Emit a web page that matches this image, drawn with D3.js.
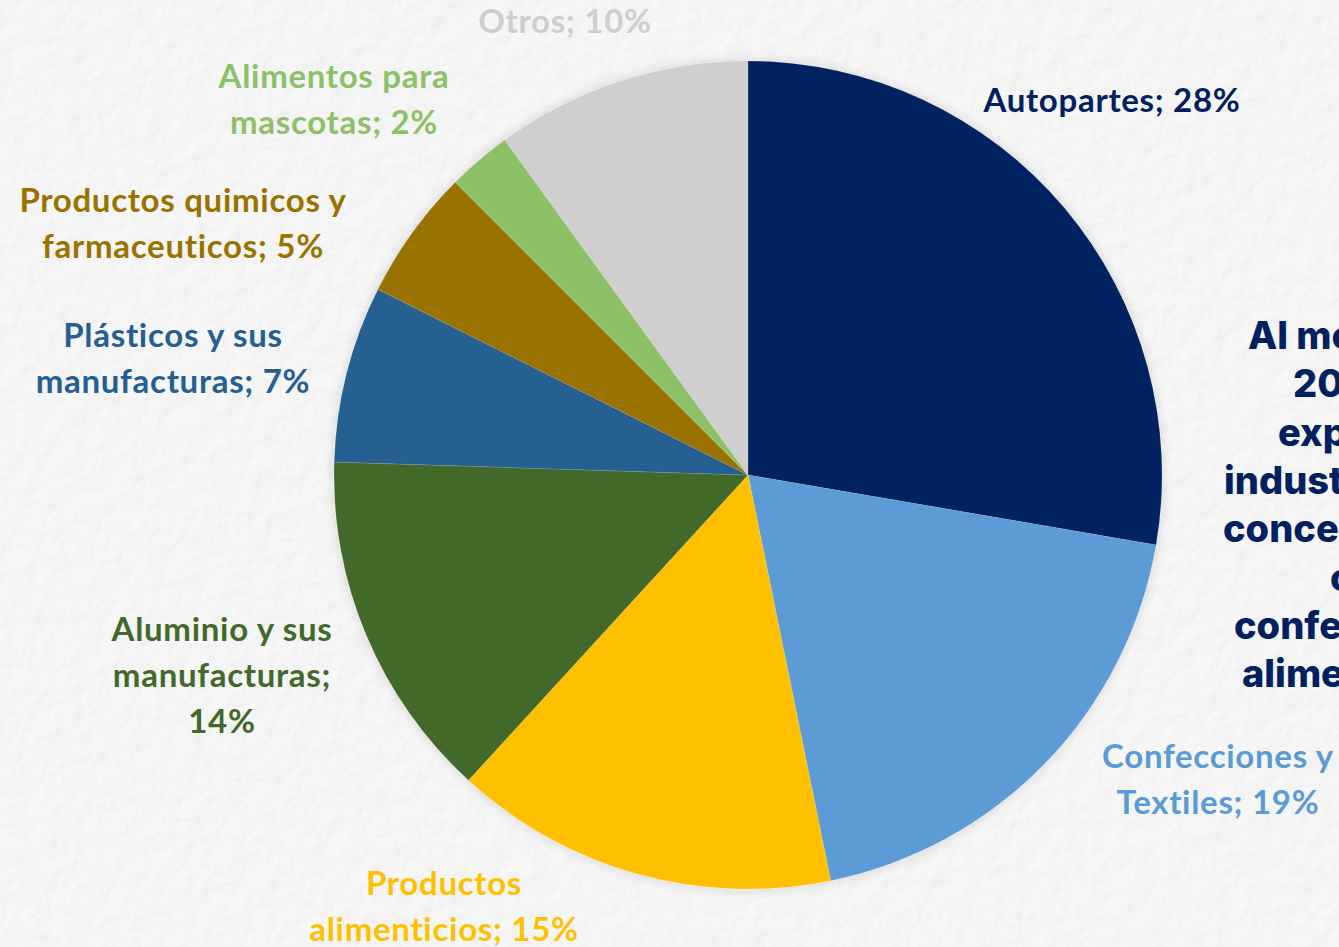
<!DOCTYPE html>
<html>
<head>
<meta charset="utf-8">
<script src="https://cdn.jsdelivr.net/npm/d3@7"></script>
<style>
  html, body { margin: 0; padding: 0; overflow: hidden; background: #f5f5f5; }
  svg { display: block; }
</style>
</head>
<body>
<div id="chart"></div>
<script>
// data
var categories = ['Autopartes', 'Confecciones y Textiles', 'Productos alimenticios',
    'Aluminio y sus manufacturas', 'Plásticos y sus manufacturas',
    'Productos quimicos y farmaceuticos', 'Alimentos para mascotas', 'Otros'];
var shares = [27.7, 19.1, 15.0, 13.7, 6.9, 5.1, 2.5, 10.0];
var pctLabels = ['28%', '19%', '15%', '14%', '7%', '5%', '2%', '10%'];
// label text broken as in the chart
var labelLines = [
    ['Autopartes; 28%'],
    ['Confecciones y', 'Textiles; 19%'],
    ['Productos', 'alimenticios; 15%'],
    ['Aluminio y sus', 'manufacturas;', '14%'],
    ['Plásticos y sus', 'manufacturas; 7%'],
    ['Productos quimicos y', 'farmaceuticos; 5%'],
    ['Alimentos para', 'mascotas; 2%'],
    ['Otros; 10%']
];
var colors = ['#002060', '#5b9bd5', '#ffc000', '#43682b', '#255e91', '#997300', '#8cc168', '#d0cece'];
var labelColors = ['#002060', '#5b9bd5', '#ffc000', '#43682b', '#255e91', '#997300', '#8cc168', '#cfcdcd'];
// side note, cut by the right edge of the page
var noteLines = ['Al mes de', '2024, las', 'exportaciones', 'industriales se', 'concentran en', 'como', 'confecciones y', 'alimentos.'];

var width = 1339, height = 947;
var cx = 748, cy = 475, radius = 414;

// label anchors (centre of first line), placed like the original
var labelPos = [[1112, 112], [1218, 768], [444, 895], [222, 641], [173, 347], [183, 212], [334, 88], [565, 33]];
var noteX = [1248, 1293, 1278, 1224, 1223, 1330, 1234, 1242];

var svg = d3.select('#chart').append('svg')
    .attr('width', width)
    .attr('height', height);

var defs = svg.append('defs');

// paper texture
var paper = defs.append('filter').attr('id', 'paper')
    .attr('x', 0).attr('y', 0).attr('width', '100%').attr('height', '100%');
paper.append('feTurbulence')
    .attr('type', 'fractalNoise')
    .attr('baseFrequency', 0.05)
    .attr('numOctaves', 4)
    .attr('seed', 3)
    .attr('result', 'noise');
paper.append('feDiffuseLighting')
    .attr('in', 'noise')
    .attr('lighting-color', '#ffffff')
    .attr('surfaceScale', 1.4)
    .attr('result', 'lit')
  .append('feDistantLight')
    .attr('azimuth', 45)
    .attr('elevation', 65);

var shadow = defs.append('filter').attr('id', 'shadow')
    .attr('x', '-10%').attr('y', '-10%').attr('width', '120%').attr('height', '120%');
shadow.append('feGaussianBlur').attr('in', 'SourceAlpha').attr('stdDeviation', 6).attr('result', 'blur');
shadow.append('feComponentTransfer').attr('in', 'blur').attr('result', 'soft')
  .append('feFuncA').attr('type', 'linear').attr('slope', 0.15);
var merge = shadow.append('feMerge');
merge.append('feMergeNode').attr('in', 'soft');
merge.append('feMergeNode').attr('in', 'SourceGraphic');

svg.append('rect')
    .attr('width', width)
    .attr('height', height)
    .attr('fill', '#f6f6f6');
svg.append('rect')
    .attr('width', width)
    .attr('height', height)
    .attr('filter', 'url(#paper)')
    .attr('opacity', 0.4);

var pie = d3.pie()
    .sort(null)
    .value(function(d) { return d; });

var arc = d3.arc()
    .outerRadius(radius)
    .innerRadius(0);

var g = svg.append('g')
    .attr('transform', 'translate(' + cx + ',' + cy + ')')
    .attr('filter', 'url(#shadow)');

g.selectAll('path')
    .data(pie(shares))
    .enter().append('path')
    .attr('d', arc)
    .style('fill', function(d, i) { return colors[i]; })
    .style('stroke', 'rgba(255,255,255,0.2)')
    .style('stroke-width', 0.6);

// slice labels
var labels = svg.selectAll('.label')
    .data(categories)
    .enter().append('text')
    .attr('class', 'label')
    .attr('text-anchor', 'middle')
    .attr('x', function(d, i) { return labelPos[i][0]; })
    .attr('y', function(d, i) { return labelPos[i][1]; })
    .style('font-family', 'Lato, "Open Sans", sans-serif')
    .style('font-weight', 700)
    .style('font-size', '33px')
    .style('letter-spacing', '0.7px')
    .style('font-variant-ligatures', 'none')
    .style('fill', function(d, i) { return labelColors[i]; });

labels.each(function(d, i) {
    var t = d3.select(this);
    labelLines[i].forEach(function(line, j) {
        t.append('tspan')
            .attr('x', labelPos[i][0])
            .attr('dy', j === 0 ? 0 : 46)
            .text(line);
    });
});

// note on the right
svg.selectAll('.note')
    .data(noteLines)
    .enter().append('text')
    .attr('class', 'note')
    .attr('x', function(d, i) { return noteX[i]; })
    .attr('y', function(d, i) { return 349 + i * 48.3; })
    .style('font-family', 'Inter, "Open Sans", sans-serif')
    .style('font-weight', 800)
    .style('font-size', '38px')
    .style('fill', '#00205f')
    .text(function(d) { return d; });
</script>
</body>
</html>
